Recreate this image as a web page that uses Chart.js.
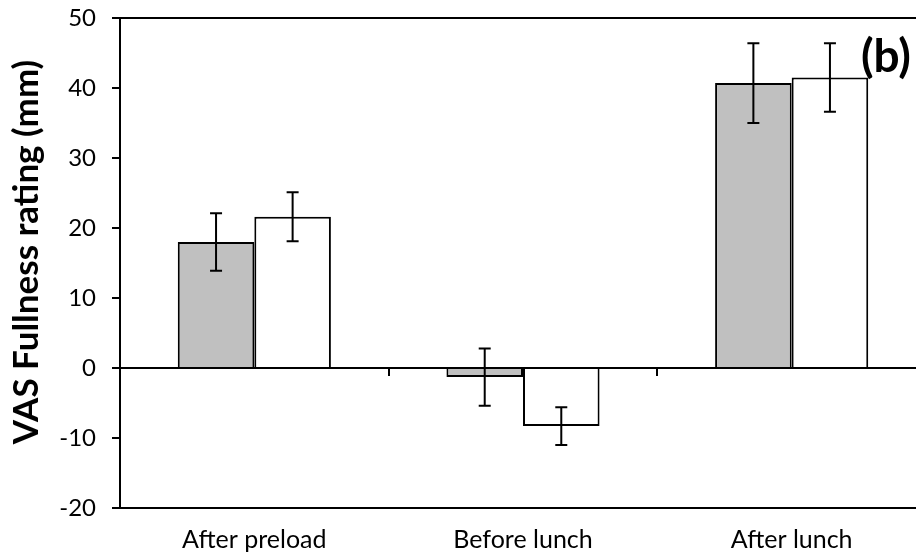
<!DOCTYPE html>
<html>
<head>
<meta charset="utf-8">
<script src="https://cdn.jsdelivr.net/npm/chart.js@4"></script>
<style>
  html, body { margin: 0; padding: 0; background: #fff; overflow: hidden; }
  #wrap { width: 930px; height: 557px; }
</style>
</head>
<body>
<div id="wrap"><canvas id="chart-b"></canvas></div>
<script>
// categories and values
const categories = ['After preload', 'Before lunch', 'After lunch'];
const grayValues = [18.0, -1.3, 40.7];
const grayErrors = [4.1, 4.1, 5.7];
const whiteValues = [21.6, -8.3, 41.5];
const whiteErrors = [3.5, 2.7, 4.9];
const errorSets = [grayErrors, whiteErrors];

// error bars on top of each bar
const errorBars = {
  id: 'errorBars',
  afterDatasetsDraw(chart) {
    const ctx = chart.ctx;
    const y = chart.scales.y;
    ctx.save();
    ctx.strokeStyle = '#000';
    ctx.lineWidth = 2;
    chart.data.datasets.forEach((ds, i) => {
      const meta = chart.getDatasetMeta(i);
      meta.data.forEach((bar, j) => {
        const v = ds.data[j], e = errorSets[i][j];
        const top = y.getPixelForValue(v + e);
        const bot = y.getPixelForValue(v - e);
        ctx.beginPath();
        ctx.moveTo(bar.x, top); ctx.lineTo(bar.x, bot);
        ctx.moveTo(bar.x - 6, top); ctx.lineTo(bar.x + 6, top);
        ctx.moveTo(bar.x - 6, bot); ctx.lineTo(bar.x + 6, bot);
        ctx.stroke();
      });
    });
    ctx.restore();
  }
};

// y title (sits a little above centre, like the original) and panel letter
const texts = {
  id: 'texts',
  afterDraw(chart) {
    const ctx = chart.ctx;
    ctx.save();
    ctx.fillStyle = '#000';
    ctx.font = 'bold 46px Lato';
    ctx.textAlign = 'right';
    ctx.textBaseline = 'middle';
    ctx.fillText('(b)', 911, 57);

    ctx.translate(38, 252);
    ctx.rotate(-Math.PI / 2);
    ctx.font = 'bold 35px Lato';
    ctx.textAlign = 'center';
    ctx.textBaseline = 'alphabetic';
    ctx.fillText('VAS Fullness rating (mm)', 0, 0);
    ctx.restore();
  }
};

const ctx = document.getElementById('chart-b');

const chart = new Chart(ctx, {
  type: 'bar',
  data: {
    labels: categories,
    datasets: [{
      data: grayValues,
      backgroundColor: '#C0C0C0',
      borderColor: '#000',
      borderWidth: 2
    }, {
      data: whiteValues,
      backgroundColor: '#FFFFFF',
      borderColor: '#000',
      borderWidth: 2
    }]
  },
  options: {
    responsive: true,
    maintainAspectRatio: false,
    animation: false,
    categoryPercentage: 0.57,
    barPercentage: 1.0,
    layout: { padding: { top: 18, right: 4, left: 0, bottom: 0 } },
    plugins: {
      legend: { display: false },
      tooltip: { enabled: false }
    },
    scales: {
      x: {
        position: 'bottom',
        grid: { display: true, drawOnChartArea: false, drawTicks: false },
        border: { display: true, color: '#000', width: 2 },
        ticks: { color: '#000', padding: 17, font: { family: 'Lato', size: 25 } },
        afterFit(scale) { scale.height = 49; }
      },
      x0: {
        type: 'category',
        labels: categories,
        position: { y: 0 },
        offset: true,
        grid: { offset: true, drawOnChartArea: false, drawTicks: true, tickLength: 7, color: '#000', lineWidth: 2 },
        border: { display: true, color: '#000', width: 2 },
        ticks: { display: false }
      },
      y: {
        min: -20,
        max: 50,
        ticks: { stepSize: 10, color: '#000', padding: 16, font: { family: 'Lato', size: 24 } },
        grid: {
          drawOnChartArea: true,
          drawTicks: true,
          tickLength: 8,
          tickColor: '#000',
          lineWidth: 2,
          color: c => (c.tick && c.tick.value === 50) ? '#000' : 'rgba(0,0,0,0)'
        },
        border: { display: true, color: '#000', width: 2 },
        afterFit(scale) {
          scale.width = 120;
          scale.paddingTop = 0;
          scale.paddingBottom = 0;
        }
      }
    }
  },
  plugins: [errorBars, texts]
});
</script>
</body>
</html>
